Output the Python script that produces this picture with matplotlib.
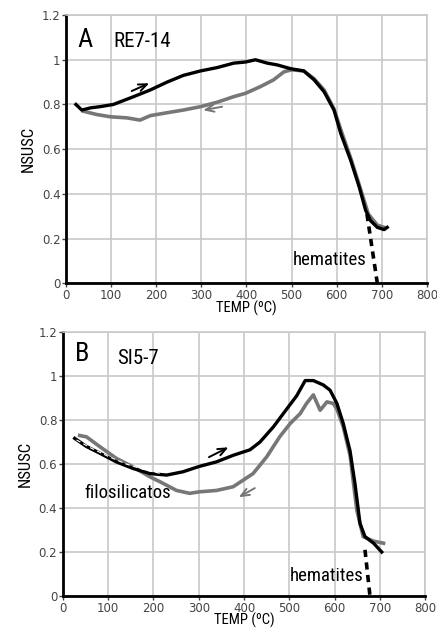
import numpy as np
import matplotlib.pyplot as plt
from matplotlib import font_manager
from matplotlib.patches import FancyArrowPatch

installed = {f.name for f in font_manager.fontManager.ttflist}
NARROW = [f for f in ['Liberation Sans Narrow', 'Roboto Condensed', 'Liberation Sans'] if f in installed]
NARROW.append('DejaVu Sans')

# panel A: RE7-14
a_heat_t = [22, 35, 55, 75, 105, 150, 187, 224, 260, 298, 335, 372, 398, 420, 446,
            468, 498, 527, 550, 572, 594, 609, 631, 650, 664, 675, 690, 705, 712]
a_heat_k = [0.80, 0.775, 0.785, 0.79, 0.80, 0.835, 0.865, 0.90, 0.93, 0.95, 0.965, 0.985,
            0.99, 1.0, 0.985, 0.977, 0.96, 0.95, 0.91, 0.857, 0.775, 0.67, 0.55, 0.43,
            0.327, 0.28, 0.25, 0.24, 0.25]
a_cool_t = [705, 690, 670, 650, 631, 612, 594, 572, 550, 527, 500, 483, 460, 431, 398,
            372, 335, 298, 260, 224, 187, 164, 135, 98, 68, 38]
a_cool_k = [0.25, 0.26, 0.31, 0.44, 0.56, 0.67, 0.78, 0.865, 0.915, 0.95, 0.955, 0.946,
            0.91, 0.88, 0.85, 0.835, 0.81, 0.79, 0.775, 0.763, 0.75, 0.73, 0.74, 0.745,
            0.755, 0.77]
a_hem_t = [667, 690]
a_hem_k = [0.31, 0.0]

# panel B: SI5-7
b_heat_t = [26, 52, 81, 118, 155, 192, 229, 265, 302, 339, 376, 413, 435, 465, 494,
            516, 535, 553, 575, 590, 605, 619, 634, 645, 656, 667, 686, 704]
b_heat_k = [0.717, 0.68, 0.65, 0.61, 0.58, 0.557, 0.55, 0.565, 0.59, 0.61, 0.64, 0.665,
            0.70, 0.77, 0.85, 0.91, 0.98, 0.98, 0.96, 0.936, 0.876, 0.785, 0.66, 0.51,
            0.33, 0.27, 0.24, 0.20]
b_cool_t = [708, 685, 663, 649, 634, 619, 605, 597, 583, 568, 553, 538, 524, 502, 479,
            450, 420, 398, 376, 339, 302, 280, 251, 214, 192, 155, 118, 81, 52, 37]
b_cool_k = [0.24, 0.25, 0.27, 0.39, 0.64, 0.77, 0.85, 0.876, 0.883, 0.845, 0.915, 0.876,
            0.83, 0.785, 0.725, 0.633, 0.557, 0.527, 0.497, 0.48, 0.474, 0.467, 0.48,
            0.52, 0.542, 0.587, 0.626, 0.68, 0.724, 0.73]
b_fit_t = [30, 60, 100, 140, 180, 220]
b_fit_k = [0.71, 0.675, 0.635, 0.60, 0.575, 0.555]
b_hem_t = [667, 678]
b_hem_k = [0.21, 0.0]

fig = plt.figure(figsize=(4.37, 6.28), dpi=100)
axA = fig.add_axes([0.151, 0.549, 0.826, 0.427])
axB = fig.add_axes([0.144, 0.051, 0.829, 0.420])


def style(ax):
    ax.set_xlim(0, 800)
    ax.set_ylim(0, 1.2)
    ax.set_xticks(np.arange(0, 801, 100))
    ax.set_yticks([0, 0.2, 0.4, 0.6, 0.8, 1.0, 1.2])
    ax.set_yticklabels(['0', '0.2', '0.4', '0.6', '0.8', '1', '1.2'])
    ax.grid(True, color='#c8c8c8', lw=1.2)
    ax.set_axisbelow(True)
    for s in ['top', 'right']:
        ax.spines[s].set_color('#c8c8c8')
        ax.spines[s].set_linewidth(1.2)
    for s in ['left', 'bottom']:
        ax.spines[s].set_color('black')
        ax.spines[s].set_linewidth(2)
    ax.tick_params(labelsize=8.5, colors='#444444', length=3, width=1, pad=1)
    ax.set_xlabel('TEMP (ºC)', family=NARROW, fontsize=10.5, labelpad=-1)
    ax.set_ylabel('NSUSC', family=NARROW, fontsize=12, labelpad=4)


def arrow(ax, x0, y0, x1, y1, color):
    ax.add_patch(FancyArrowPatch((x0, y0), (x1, y1),
                                 arrowstyle='->,head_length=6,head_width=2.5',
                                 color=color, lw=1.4, mutation_scale=1))


style(axA)
axA.plot(a_cool_t, a_cool_k, color='#777777', lw=2.6)
axA.plot(a_heat_t, a_heat_k, color='black', lw=2.4)
axA.plot(a_hem_t, a_hem_k, color='black', lw=2.6, ls=(0, (2, 1.5)))
arrow(axA, 140, 0.855, 190, 0.9, 'black')
arrow(axA, 352, 0.792, 298, 0.772, '#777777')
axA.text(26, 1.09, 'A', fontsize=19, family=NARROW, va='center')
axA.text(104, 1.08, 'RE7-14', fontsize=15, family=NARROW, va='center')
axA.text(503, 0.105, 'hematites', fontsize=13.5, family=NARROW, va='center')

style(axB)
axB.plot(b_cool_t, b_cool_k, color='#777777', lw=2.6)
axB.plot(b_heat_t, b_heat_k, color='black', lw=2.4)
axB.plot(b_fit_t, b_fit_k, color='white', lw=0.8, ls=(0, (4, 3)))
axB.plot(b_hem_t, b_hem_k, color='black', lw=2.6, ls=(0, (2, 1.5)))
arrow(axB, 317, 0.626, 371, 0.682, 'black')
arrow(axB, 429, 0.497, 383, 0.443, '#777777')
axB.text(26, 1.1, 'B', fontsize=19, family=NARROW, va='center')
axB.text(120, 1.08, 'SI5-7', fontsize=15, family=NARROW, va='center')
axB.text(47, 0.467, 'filosilicatos', fontsize=13.5, family=NARROW, va='center')
axB.text(500, 0.09, 'hematites', fontsize=13.5, family=NARROW, va='center')

fig.savefig('out.png', dpi=100)
